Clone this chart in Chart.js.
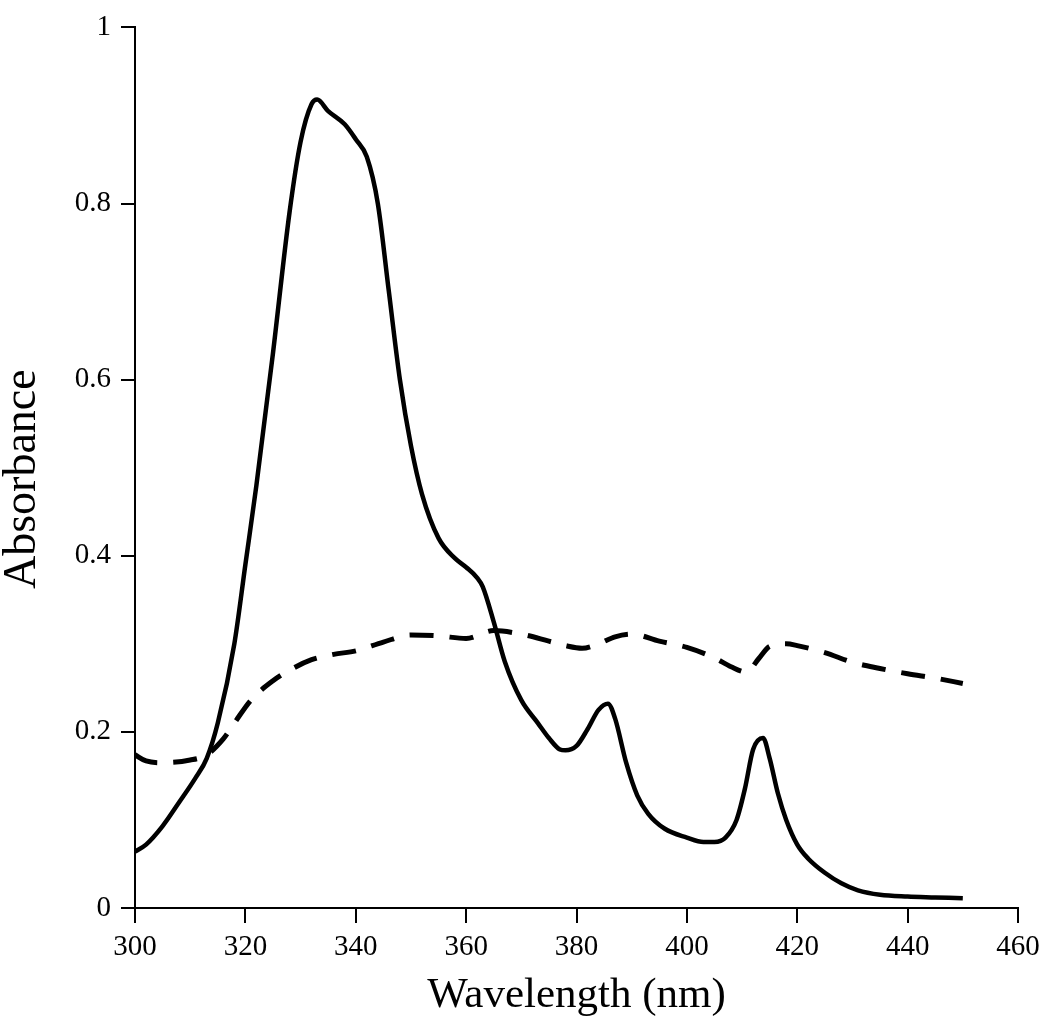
<!DOCTYPE html>
<html>
<head>
<meta charset="utf-8">
<script src="https://cdn.jsdelivr.net/npm/chart.js@4.4.1/dist/chart.umd.min.js"></script>
<style>
    html, body { margin: 0; padding: 0; background: #fff; }
    #wrap { width: 1050px; height: 1030px; }
</style>
</head>
<body>
<div id="wrap"><canvas id="spectrumChart"></canvas></div>
<script>
// solid curve
const solidNm = [300, 302, 305, 308, 311, 313, 315, 318, 320, 322, 325, 328, 330, 332, 333, 335, 338, 340, 342, 344, 346, 348, 350, 352, 355, 358, 360, 362, 363, 365, 367, 370, 373, 375, 377, 378, 380, 382, 384, 385.7, 387, 389, 391, 393, 396, 400, 403, 405, 407, 409, 410.5, 412, 413.8, 415, 416.5, 418, 420, 422, 425, 428, 431, 435, 440, 445, 450];
const solidAbs = [0.064, 0.072, 0.093, 0.12, 0.148, 0.17, 0.21, 0.3, 0.39, 0.48, 0.63, 0.79, 0.87, 0.913, 0.918, 0.905, 0.89, 0.873, 0.853, 0.8, 0.7, 0.6, 0.525, 0.47, 0.42, 0.397, 0.387, 0.375, 0.365, 0.325, 0.28, 0.236, 0.21, 0.193, 0.18, 0.179, 0.184, 0.203, 0.225, 0.232, 0.215, 0.165, 0.128, 0.107, 0.09, 0.08, 0.075, 0.075, 0.08, 0.1, 0.135, 0.18, 0.193, 0.17, 0.13, 0.1, 0.072, 0.056, 0.04, 0.028, 0.02, 0.015, 0.013, 0.012, 0.011];

// dashed curve
const dashNm = [300, 302, 305, 310, 313, 316, 318, 321, 325, 328, 332, 336, 340, 345, 350, 355, 360, 365, 370, 375, 378, 381, 384, 387, 390, 395, 400, 405, 408, 410.8, 413, 415, 418, 420, 425, 430, 435, 440, 445, 450];
const dashAbs = [0.174, 0.167, 0.165, 0.168, 0.174, 0.192, 0.21, 0.236, 0.258, 0.27, 0.282, 0.288, 0.292, 0.302, 0.31, 0.309, 0.306, 0.315, 0.311, 0.303, 0.298, 0.295, 0.3, 0.308, 0.311, 0.303, 0.296, 0.284, 0.274, 0.268, 0.283, 0.297, 0.3, 0.298, 0.29, 0.279, 0.272, 0.266, 0.261, 0.255];

const xTicks = [300, 320, 340, 360, 380, 400, 420, 440, 460];
const yTicks = [0, 0.2, 0.4, 0.6, 0.8, 1];

const serif = "'Liberation Serif', 'DejaVu Serif', serif";

function toPoints(xs, ys) {
    return xs.map((x, i) => ({ x: x, y: ys[i] }));
}

const ctx = document.getElementById("spectrumChart").getContext("2d");

new Chart(ctx, {
    type: "line",
    data: {
        datasets: [
            {
                label: "solid",
                data: toPoints(solidNm, solidAbs),
                borderColor: "#000",
                borderWidth: 4.5,
                pointRadius: 0,
                cubicInterpolationMode: "monotone",
                fill: false,
            },
            {
                label: "dashed",
                data: toPoints(dashNm, dashAbs),
                borderColor: "#000",
                borderWidth: 5,
                borderDash: [24, 16],
                pointRadius: 0,
                cubicInterpolationMode: "monotone",
                fill: false,
            },
        ],
    },
    options: {
        responsive: true,
        maintainAspectRatio: false,
        animation: false,
        layout: { padding: { top: 27, right: 32, left: 0, bottom: 0 } },
        plugins: {
            legend: { display: false },
            tooltip: { enabled: false },
        },
        scales: {
            x: {
                type: "linear",
                min: 300,
                max: 460,
                afterBuildTicks: (scale) => {
                    scale.ticks = xTicks.map((v) => ({ value: v }));
                },
                afterFit: (scale) => {
                    scale.height = 122;
                },
                ticks: {
                    color: "#000",
                    font: { family: serif, size: 29 },
                    padding: 7,
                    maxRotation: 0,
                    callback: (v) => String(v),
                },
                grid: {
                    drawOnChartArea: false,
                    drawTicks: true,
                    tickLength: 15,
                    color: "#000",
                    lineWidth: 2,
                },
                border: { display: true, color: "#000", width: 2 },
                title: {
                    display: true,
                    text: "Wavelength (nm)",
                    color: "#000",
                    font: { family: serif, size: 43, lineHeight: 1 },
                    padding: { top: 0, bottom: 13 },
                },
            },
            y: {
                type: "linear",
                min: 0,
                max: 1,
                afterBuildTicks: (scale) => {
                    scale.ticks = yTicks.map((v) => ({ value: v }));
                },
                afterFit: (scale) => {
                    scale.width = 135;
                },
                ticks: {
                    color: "#000",
                    font: { family: serif, size: 29 },
                    padding: 10,
                    callback: (v) => String(v),
                },
                grid: {
                    drawOnChartArea: false,
                    drawTicks: true,
                    tickLength: 14,
                    color: "#000",
                    lineWidth: 2,
                },
                border: { display: true, color: "#000", width: 2 },
                title: {
                    display: true,
                    text: "Absorbance  ",
                    color: "#000",
                    font: { family: serif, size: 46, lineHeight: 1 },
                    padding: { top: 0, bottom: 0 },
                },
            },
        },
    },
});
</script>
</body>
</html>
